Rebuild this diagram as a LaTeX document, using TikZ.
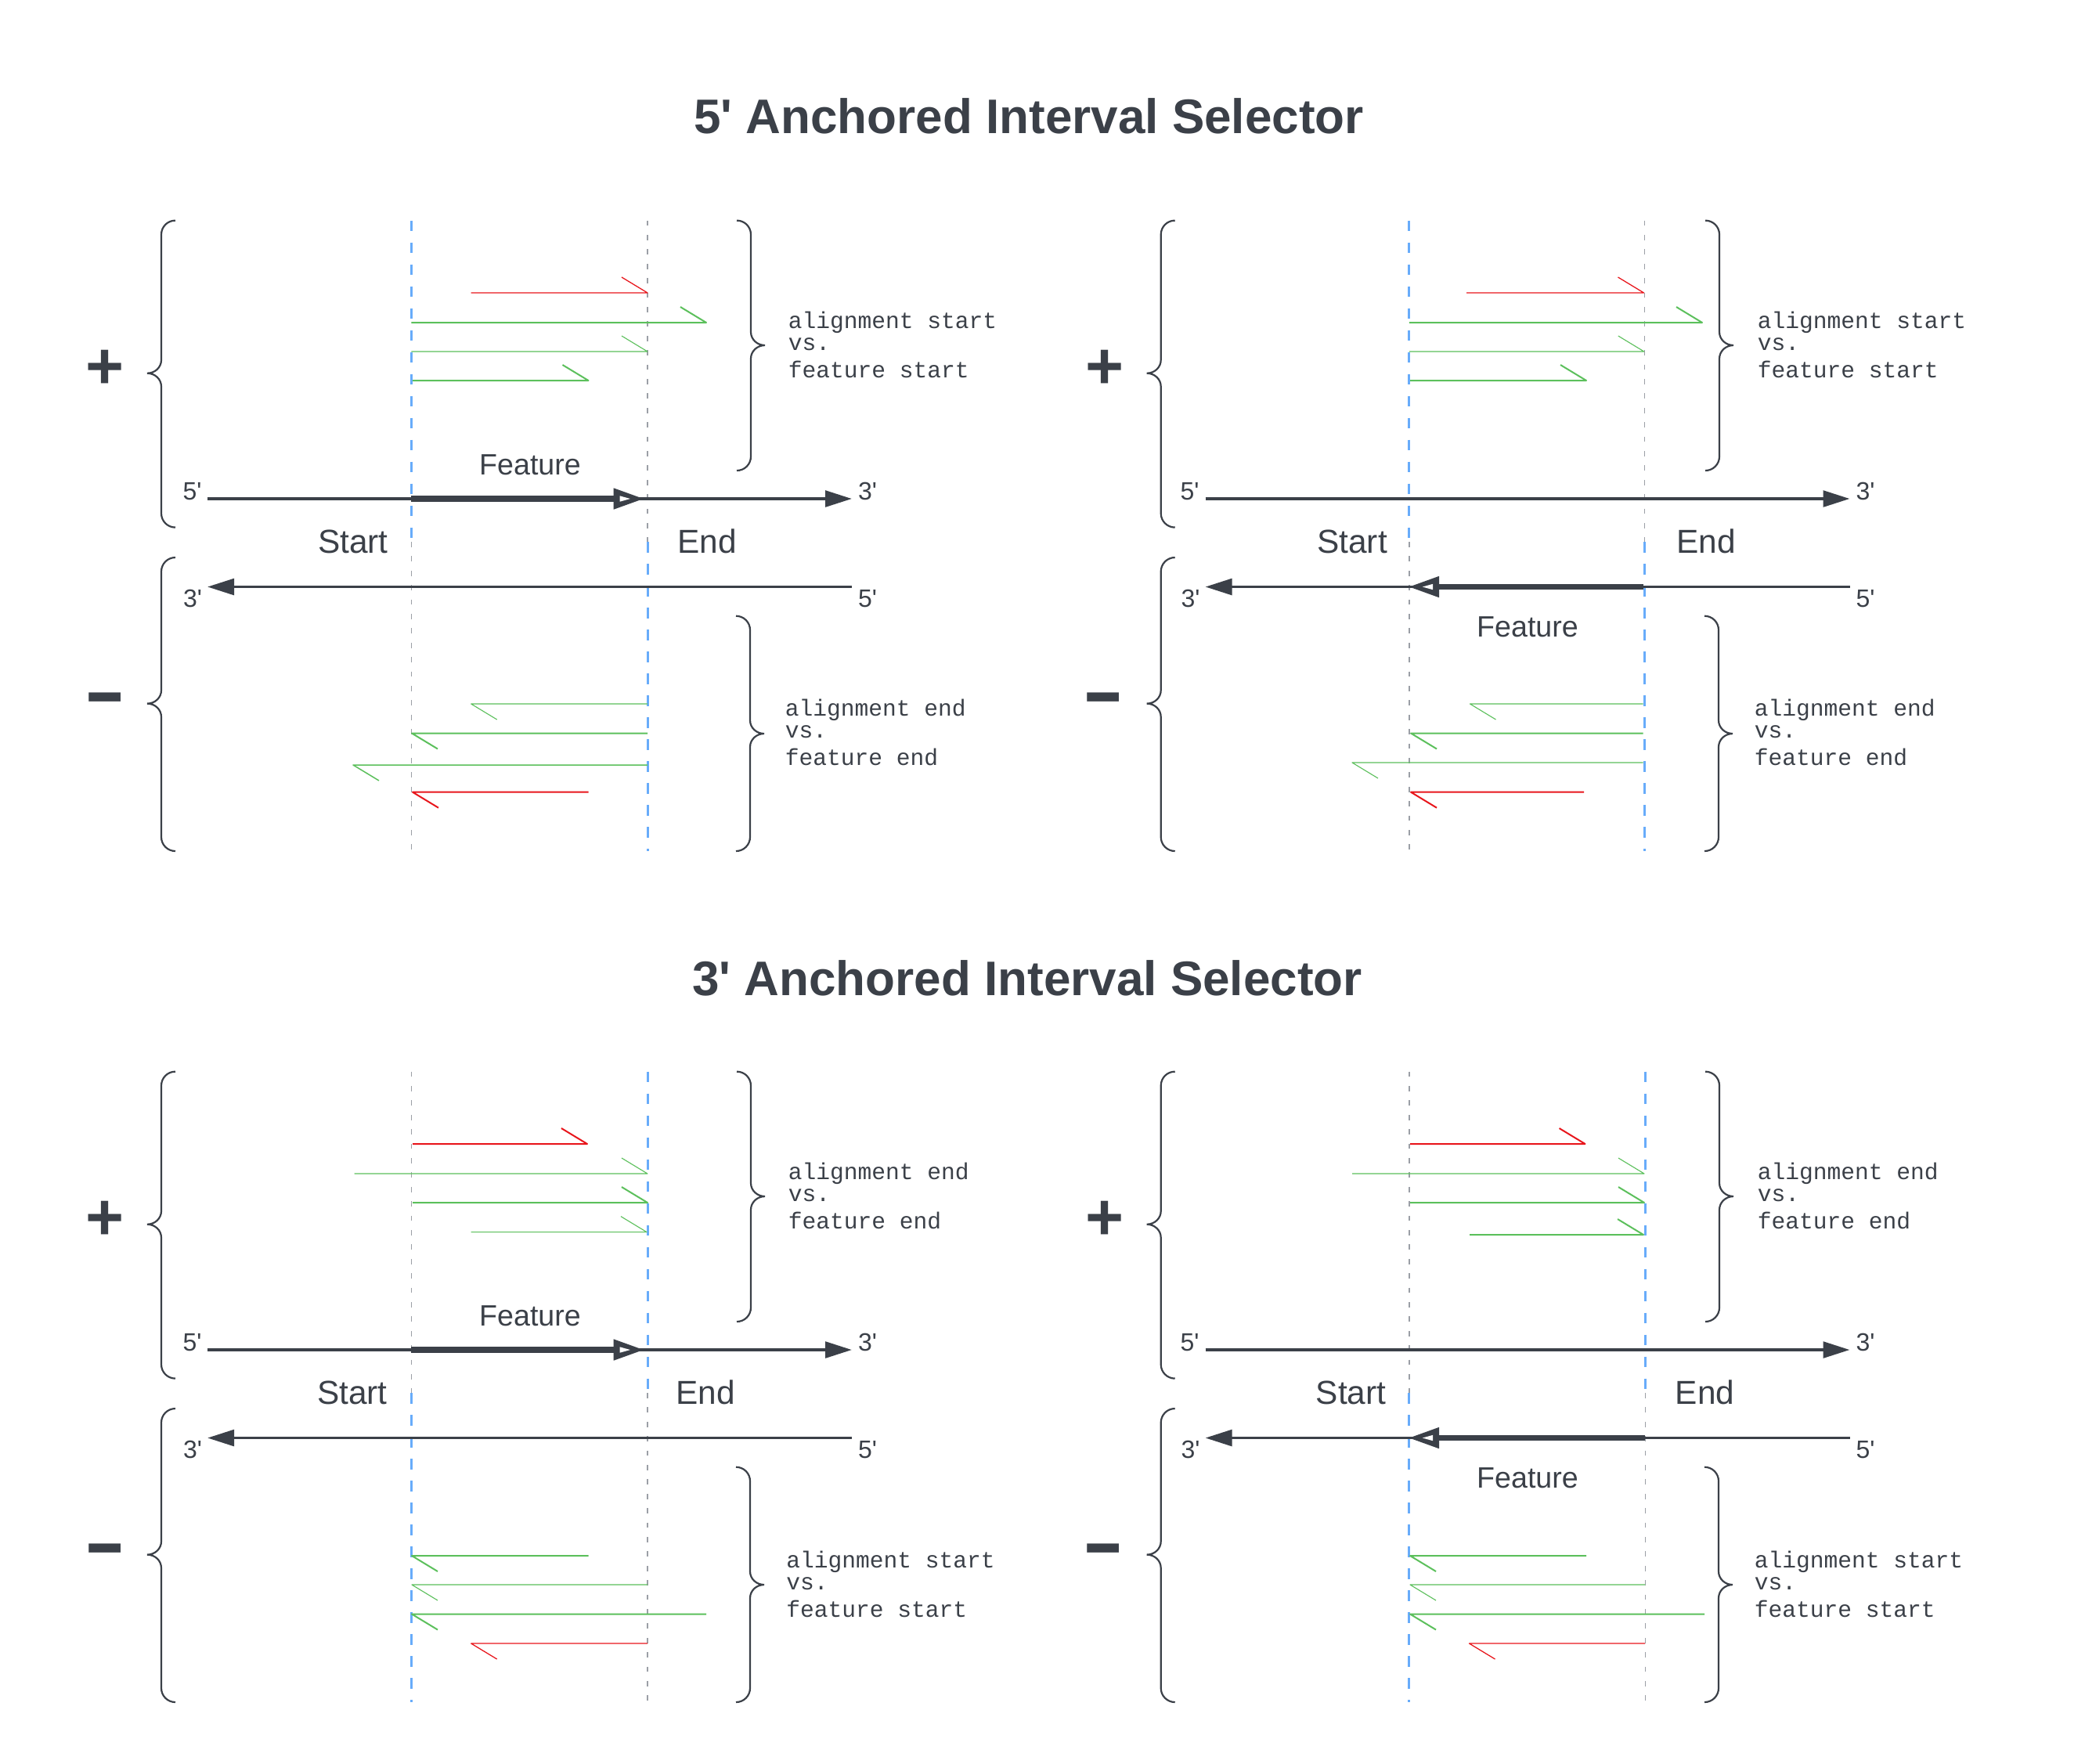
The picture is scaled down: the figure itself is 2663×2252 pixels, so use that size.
\documentclass[tikz,border=0pt]{standalone}
\usepackage{graphicx}
\usepackage{fontspec}
\setmainfont{Liberation Sans}
\newfontfamily\monofont{Liberation Mono}
\usetikzlibrary{arrows.meta}
\newcommand\apos{\XeTeXglyph\XeTeXcharglyph"0027\relax}
\definecolor{ink}{RGB}{59,64,72}
\definecolor{rdred}{RGB}{232,22,28}
\definecolor{rdgreen}{RGB}{92,192,92}
\definecolor{dblue}{RGB}{104,172,250}
\definecolor{dgray}{RGB}{155,159,166}
\tikzset{
  titletext/.style={font=\fontsize{15.5pt}{18pt}\selectfont\bfseries, text=ink, inner sep=0pt, anchor=base},
  endtext/.style={font=\fontsize{10.6pt}{12pt}\selectfont, text=ink, inner sep=0pt, anchor=base},
  feattext/.style={font=\fontsize{9.4pt}{11pt}\selectfont, text=ink, inner sep=0pt, anchor=base},
  primetext/.style={font=\fontsize{8pt}{10pt}\selectfont, text=ink, inner sep=0pt, anchor=base},
  monotext/.style={font=\monofont\fontsize{7.4pt}{9pt}\selectfont, text=ink, inner sep=0pt, anchor=base west},
  plustext/.style={font=\fontsize{21pt}{25pt}\selectfont\bfseries, text=ink, inner sep=0pt, anchor=base},
  minustext/.style={font=\fontsize{24pt}{28pt}\selectfont\bfseries, text=ink, inner sep=0pt, anchor=base},
  strand/.style={draw=ink, line width=0.95pt, -{Triangle[length=8.5pt,width=5.15pt]}},
  featline/.style={draw=ink, line width=1.83pt},
  bluedash/.style={draw=dblue, line width=0.75pt, dash pattern=on 3.4pt off 3.6pt},
  graydash/.style={draw=dgray, line width=0.38pt, dash pattern=on 1.7pt off 2.9pt},
  bracepath/.style={draw=ink, line width=0.55pt},
  rdline/.style={line width=#1, line join=round},
}
% brace: #1 x of spine, #2 direction (1 = opening to the left like "{", -1 like "}"), #3 top, #4 tip, #5 bottom
\newcommand\brc[5]{%
  \draw[bracepath] ({#1+18*(#2)},#3) .. controls ({#1+8*(#2)},#3) and (#1,{#3+8}) .. (#1,{#3+18})
    -- (#1,{#4-17}) .. controls (#1,{#4-7.6}) and ({#1-8*(#2)},#4) .. ({#1-18*(#2)},#4)
    .. controls ({#1-8*(#2)},#4) and (#1,{#4+7.6}) .. (#1,{#4+17})
    -- (#1,{#5-18}) .. controls (#1,{#5-8}) and ({#1+8*(#2)},#5) .. ({#1+18*(#2)},#5);}
% forward read: from #1 to #2 at height #3, barb at right end
\newcommand\rdF[5]{\draw[#4, rdline=#5] (#1,#3) -- (#2,#3) -- ++(-33,-20);}
% reverse read: from #1 (right) to #2 (left) at height #3, barb at left end
\newcommand\rdR[5]{\draw[#4, rdline=#5] (#1,#3) -- (#2,#3) -- ++(33,20);}
% feature arrows with open head
\newcommand\featR[2]{%
  \draw[featline] (#1) -- ([xshift=-8pt]#2);
  \fill[ink] (#2) -- ++(-38,-13.7) -- ++(0,27.4) -- cycle;
  \fill[white] ([xshift=-4.2pt]#2) -- ++(-13.3,-3.7) -- ++(0,7.4) -- cycle;}
\newcommand\featL[2]{%
  \draw[featline] (#1) -- ([xshift=8pt]#2);
  \fill[ink] (#2) -- ++(38,-13.7) -- ++(0,27.4) -- cycle;
  \fill[white] ([xshift=4.2pt]#2) -- ++(13.3,-3.7) -- ++(0,7.4) -- cycle;}
\begin{document}
\begin{tikzpicture}[x=0.25pt,y=-0.25pt]
\fill[white] (0,0) rectangle (2663,2252);
\useasboundingbox (0,0) rectangle (2663,2252);

\node[titletext] (title5) at (1314,170.7) {5\apos{} Anchored Interval Selector};
\node[titletext] (title3) at (1312,1271) {3\apos{} Anchored Interval Selector};

% ================= TL =================
\begin{scope}
\draw[bluedash] (525.4,281.6) -- (525.4,692);
\draw[graydash] (827,281.6) -- (827,692);
\draw[graydash] (525.4,692) -- (525.4,1087);
\draw[bluedash] (827,692) -- (827,1087);
\brc{206}{1}{281.6}{476.7}{673.6}
\brc{206}{1}{712}{898.6}{1087}
\brc{959}{-1}{281.6}{441}{601}
\brc{958}{-1}{786.7}{937}{1087}
\node[plustext] (tlplus) at (134.2,496) {+};
\node[minustext] (tlminus) at (134,915.5) {\scalebox{1.67}[1]{-}};
\node[primetext] (tlp5) at (245.5,638) {5\apos};
\node[primetext] (tlp3) at (1108,638) {3\apos};
\node[primetext] (tlm3) at (246,775) {3\apos};
\node[primetext] (tlm5) at (1108,775) {5\apos};
\coordinate (tlpa) at (265,637); \coordinate (tlpb) at (1088,637);
\coordinate (tlma) at (1088,749.5); \coordinate (tlmb) at (265,749.5);
\draw[strand] (tlpa) -- (tlpb);
\draw[strand] (tlma) -- (tlmb);
\coordinate (tlfa) at (525.4,637); \coordinate (tlfb) at (821.7,637);
\featR{tlfa}{tlfb}
\node[feattext] (tlfeat) at (677,606.5) {Feature};
\node[endtext] (tlstart) at (451,706.4) {Start};
\node[endtext] (tlend) at (903,706.4) {End};
\rdF{601.7}{827}{374}{rdred}{0.32pt}
\rdF{525.4}{902}{412}{rdgreen}{0.5pt}
\rdF{525.4}{827}{449}{rdgreen}{0.28pt}
\rdF{527}{751.5}{486}{rdgreen}{0.5pt}
\rdR{827}{601.7}{899}{rdgreen}{0.28pt}
\rdR{827}{526}{936.5}{rdgreen}{0.5pt}
\rdR{827}{451}{977}{rdgreen}{0.38pt}
\rdR{751.5}{527}{1011.7}{rdred}{0.5pt}
\node[monotext] (tlu1) at (1006,419) {alignment start};
\node[monotext] (tlu2) at (1006,447.7) {vs.};
\node[monotext] (tlu3) at (1006,482.7) {feature start};
\node[monotext] (tll1) at (1002,914) {alignment end};
\node[monotext] (tll2) at (1002,942.5) {vs.};
\node[monotext] (tll3) at (1002,977.5) {feature end};
\end{scope}

% ================= TR =================
\begin{scope}[shift={(1274.5,0)}]
\draw[bluedash] (525.4,281.6) -- (525.4,692);
\draw[graydash] (826,281.6) -- (826,692);
\draw[graydash] (525.4,692) -- (525.4,1087);
\draw[bluedash] (826,692) -- (826,1087);
\brc{208.2}{1}{281.6}{476.7}{673.6}
\brc{208.2}{1}{712}{898.6}{1087}
\brc{921.5}{-1}{281.6}{441}{601}
\brc{920.5}{-1}{786.7}{937}{1087}
\node[plustext] (trplus) at (136.5,496) {+};
\node[minustext] (trminus) at (134.5,915.5) {\scalebox{1.67}[1]{-}};
\node[primetext] (trp5) at (245,638) {5\apos};
\node[primetext] (trp3) at (1108,638) {3\apos};
\node[primetext] (trm3) at (246,775) {3\apos};
\node[primetext] (trm5) at (1108,775) {5\apos};
\coordinate (trpa) at (265,637); \coordinate (trpb) at (1088,637);
\coordinate (trma) at (1088,749.5); \coordinate (trmb) at (265,749.5);
\draw[strand] (trpa) -- (trpb);
\draw[strand] (trma) -- (trmb);
\coordinate (trfa) at (824.5,749.5); \coordinate (trfb) at (525.5,749.5);
\featL{trfa}{trfb}
\node[feattext] (trfeat) at (676.5,813) {Feature};
\node[endtext] (trstart) at (452.5,706.4) {Start};
\node[endtext] (trend) at (904.5,706.4) {End};
\rdF{598.5}{825}{374}{rdred}{0.32pt}
\rdF{525.4}{899.5}{412}{rdgreen}{0.5pt}
\rdF{525.4}{825.3}{449}{rdgreen}{0.28pt}
\rdF{526.5}{751.5}{486}{rdgreen}{0.5pt}
\rdR{824}{603}{899}{rdgreen}{0.28pt}
\rdR{824}{527.5}{936.5}{rdgreen}{0.5pt}
\rdR{824}{452.5}{974}{rdgreen}{0.28pt}
\rdR{748.5}{527.5}{1011.7}{rdred}{0.5pt}
\node[monotext] (tru1) at (969.5,419) {alignment start};
\node[monotext] (tru2) at (969.5,447.7) {vs.};
\node[monotext] (tru3) at (969.5,482.7) {feature start};
\node[monotext] (trl1) at (965.5,914) {alignment end};
\node[monotext] (trl2) at (965.5,942.5) {vs.};
\node[monotext] (trl3) at (965.5,977.5) {feature end};
\end{scope}

% ================= BL =================
\begin{scope}[shift={(0,1087)}]
\draw[graydash] (525.4,281.6) -- (525.4,692);
\draw[bluedash] (827,281.6) -- (827,692);
\draw[bluedash] (525.4,692) -- (525.4,1087);
\draw[graydash] (827,692) -- (827,1087);
\brc{206}{1}{281.6}{476.7}{673.6}
\brc{206}{1}{712}{898.6}{1087}
\brc{959}{-1}{281.6}{441}{601}
\brc{958}{-1}{786.7}{937}{1087}
\node[plustext] (blplus) at (134.2,496) {+};
\node[minustext] (blminus) at (134,915.5) {\scalebox{1.67}[1]{-}};
\node[primetext] (blp5) at (245.5,638) {5\apos};
\node[primetext] (blp3) at (1108,638) {3\apos};
\node[primetext] (blm3) at (246,775) {3\apos};
\node[primetext] (blm5) at (1108,775) {5\apos};
\coordinate (blpa) at (265,637); \coordinate (blpb) at (1088,637);
\coordinate (blma) at (1088,749.5); \coordinate (blmb) at (265,749.5);
\draw[strand] (blpa) -- (blpb);
\draw[strand] (blma) -- (blmb);
\coordinate (blfa) at (525.4,637); \coordinate (blfb) at (821.7,637);
\featR{blfa}{blfb}
\node[feattext] (blfeat) at (677,606.5) {Feature};
\node[endtext] (blstart) at (450,706.4) {Start};
\node[endtext] (blend) at (901,706.4) {End};
\rdF{527}{750}{374}{rdred}{0.5pt}
\rdF{452.5}{827}{412}{rdgreen}{0.28pt}
\rdF{527}{827}{449}{rdgreen}{0.5pt}
\rdF{601.7}{826}{486.6}{rdgreen}{0.28pt}
\rdR{751.5}{526}{900}{rdgreen}{0.5pt}
\rdR{827}{526}{937}{rdgreen}{0.28pt}
\rdR{902}{526}{974.5}{rdgreen}{0.5pt}
\rdR{827}{601.7}{1012}{rdred}{0.32pt}
\node[monotext] (blu1) at (1006,419) {alignment end};
\node[monotext] (blu2) at (1006,447.7) {vs.};
\node[monotext] (blu3) at (1006,482.7) {feature end};
\node[monotext] (bll1) at (1003.5,915) {alignment start};
\node[monotext] (bll2) at (1003.5,943.5) {vs.};
\node[monotext] (bll3) at (1003.5,978.5) {feature start};
\end{scope}

% ================= BR =================
\begin{scope}[shift={(1274.5,1087)}]
\draw[graydash] (525.4,281.6) -- (525.4,692);
\draw[bluedash] (827,281.6) -- (827,692);
\draw[bluedash] (525.4,692) -- (525.4,1087);
\draw[graydash] (827,692) -- (827,1087);
\brc{208.2}{1}{281.6}{476.7}{673.6}
\brc{208.2}{1}{712}{898.6}{1087}
\brc{921.5}{-1}{281.6}{441}{601}
\brc{920.5}{-1}{786.7}{937}{1087}
\node[plustext] (brplus) at (136.5,496) {+};
\node[minustext] (brminus) at (134.5,915.5) {\scalebox{1.67}[1]{-}};
\node[primetext] (brp5) at (245,638) {5\apos};
\node[primetext] (brp3) at (1108,638) {3\apos};
\node[primetext] (brm3) at (246,775) {3\apos};
\node[primetext] (brm5) at (1108,775) {5\apos};
\coordinate (brpa) at (265,637); \coordinate (brpb) at (1088,637);
\coordinate (brma) at (1088,749.5); \coordinate (brmb) at (265,749.5);
\draw[strand] (brpa) -- (brpb);
\draw[strand] (brma) -- (brmb);
\coordinate (brfa) at (826,749.5); \coordinate (brfb) at (525.5,749.5);
\featL{brfa}{brfb}
\node[feattext] (brfeat) at (676.5,813) {Feature};
\node[endtext] (brstart) at (451,706.4) {Start};
\node[endtext] (brend) at (903,706.4) {End};
\rdF{526.5}{750}{374}{rdred}{0.5pt}
\rdF{452.5}{825.5}{412}{rdgreen}{0.28pt}
\rdF{526.5}{825.5}{449}{rdgreen}{0.5pt}
\rdF{602.5}{824.5}{490}{rdgreen}{0.5pt}
\rdR{751.5}{526.5}{900}{rdgreen}{0.5pt}
\rdR{826.5}{526.5}{937}{rdgreen}{0.28pt}
\rdR{902.5}{526.5}{974.5}{rdgreen}{0.5pt}
\rdR{826.5}{602}{1012}{rdred}{0.32pt}
\node[monotext] (bru1) at (969.5,419) {alignment end};
\node[monotext] (bru2) at (969.5,447.7) {vs.};
\node[monotext] (bru3) at (969.5,482.7) {feature end};
\node[monotext] (brl1) at (965.5,915) {alignment start};
\node[monotext] (brl2) at (965.5,943.5) {vs.};
\node[monotext] (brl3) at (965.5,978.5) {feature start};
\end{scope}
\end{tikzpicture}
\end{document}
